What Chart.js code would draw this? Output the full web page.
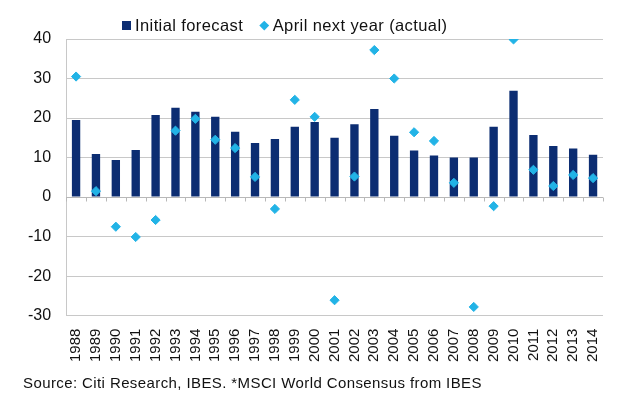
<!DOCTYPE html>
<html>
<head>
<meta charset="utf-8">
<script src="https://cdn.jsdelivr.net/npm/chart.js@4/dist/chart.umd.min.js"></script>
<style>
  body { margin: 0; background: #fff; }
  #wrap { position: relative; width: 640px; height: 395px; font-family: "Liberation Sans", Arial, sans-serif; color: #111; }
  #fonte { position: absolute; left: 23px; top: 374px; font-size: 15px; letter-spacing: 0.4px; }
  #legenda { position: absolute; left: 122px; top: 15px; display: flex; align-items: center; font-size: 16.5px; letter-spacing: 0.4px; line-height: 20px; }
  .quadro { width: 9px; height: 9px; background: #0c2d72; margin-right: 4px; }
  .rombo { width: 6.5px; height: 6.5px; background: #22b3e6; transform: rotate(45deg); margin: 0 5px 0 18px; }
</style>
</head>
<body>
<div id="wrap">
  <canvas id="grafico" width="640" height="395"></canvas>
  <div id="legenda"></div>
  <div id="fonte">Source: Citi Research, IBES. *MSCI World Consensus from IBES</div>
</div>
<script>
const anni = ['1988','1989','1990','1991','1992','1993','1994','1995','1996','1997','1998','1999','2000',
    '2001','2002','2003','2004','2005','2006','2007','2008','2009','2010','2011','2012','2013','2014'];
const previsione = [19.5, 10.9, 9.4, 11.9, 20.8, 22.6, 21.6, 20.3, 16.5, 13.7, 14.7, 17.8, 19.0,
    15.0, 18.4, 22.3, 15.5, 11.8, 10.5, 10.0, 10.0, 17.8, 26.9, 15.7, 12.9, 12.3, 10.7];
const effettivo = [30.5, 1.5, -7.5, -10.1, -5.8, 16.8, 19.8, 14.5, 12.4, 5.1, -3.0, 24.6, 20.3,
    -26.1, 5.2, 37.2, 30.0, 16.4, 14.2, 3.6, -27.8, -2.3, 39.9, 6.9, 2.8, 5.6, 4.8];
const yMin = -30, yMax = 40, yPasso = 10;

// asse a zero con tacche tra le categorie (come Excel)
const asseZero = {
    id: 'asseZero',
    afterDatasetsDraw(chart) {
        const { ctx, scales: { x, y } } = chart;
        const y0 = Math.round(y.getPixelForValue(0)) + 0.5;
        ctx.save();
        ctx.strokeStyle = '#b8b8b8';
        ctx.lineWidth = 1;
        ctx.beginPath();
        ctx.moveTo(x.left, y0);
        ctx.lineTo(x.right, y0);
        for (let i = 0; i <= anni.length; i++) {
            const px = Math.round(x.left + (x.right - x.left) * i / anni.length) + 0.5;
            ctx.moveTo(px, y0);
            ctx.lineTo(px, y0 + 4);
        }
        ctx.stroke();
        ctx.restore();
    }
};

const ctx = document.getElementById('grafico').getContext('2d');
const grafico = new Chart(ctx, {
    data: {
        labels: anni,
        datasets: [
            {
                type: 'bar',
                label: 'Initial forecast',
                data: previsione,
                backgroundColor: '#0c2d72',
                barPercentage: 0.42,
                categoryPercentage: 1,
                order: 2
            },
            {
                type: 'line',
                label: 'April next year (actual)',
                data: effettivo,
                showLine: false,
                pointStyle: 'rectRot',
                pointRadius: 4.6,
                pointBackgroundColor: '#22b3e6',
                pointBorderColor: '#22b3e6',
                backgroundColor: '#22b3e6',
                borderColor: '#22b3e6',
                order: 1
            }
        ]
    },
    options: {
        responsive: false,
        animation: false,
        layout: { padding: { left: 13, right: 37, top: 39, bottom: 28 } },
        plugins: {
            legend: { display: false },
            tooltip: { enabled: false }
        },
        scales: {
            x: {
                offset: true,
                grid: { display: false },
                border: { display: false },
                ticks: {
                    color: '#111',
                    minRotation: 90,
                    maxRotation: 90,
                    autoSkip: false,
                    padding: 5,
                    font: { family: '"Liberation Sans", Arial, sans-serif', size: 15 }
                }
            },
            y: {
                min: yMin,
                max: yMax,
                ticks: {
                    stepSize: yPasso,
                    color: '#111',
                    padding: 15,
                    font: { family: '"Liberation Sans", Arial, sans-serif', size: 16 }
                },
                grid: { color: '#c8c8c8', drawTicks: false },
                border: { color: '#c8c8c8' }
            }
        }
    },
    plugins: [asseZero]
});

// legenda html, posizionata come nell'originale
const legenda = document.getElementById('legenda');
grafico.data.datasets.forEach((ds, i) => {
    const segno = document.createElement('span');
    segno.className = i === 0 ? 'quadro' : 'rombo';
    const testo = document.createElement('span');
    testo.innerText = ds.label;
    legenda.appendChild(segno);
    legenda.appendChild(testo);
});
</script>
</body>
</html>
